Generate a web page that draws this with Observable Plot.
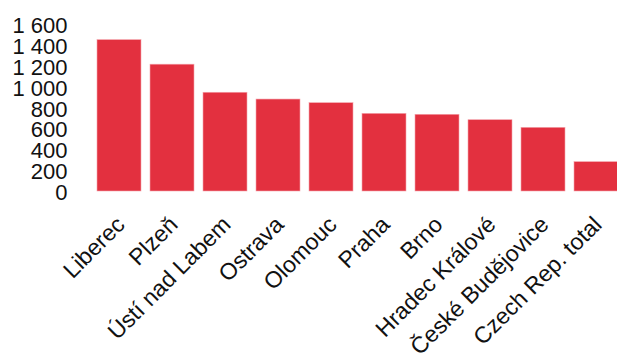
<!DOCTYPE html>
<html>
<head>
<meta charset="utf-8">
<script src="https://cdn.jsdelivr.net/npm/d3@7"></script>
<script src="https://cdn.jsdelivr.net/npm/@observablehq/plot@0.6"></script>
<style>
  html, body { margin: 0; padding: 0; background: #fff; }
  svg { font-family: "Liberation Sans", Arial, sans-serif; }
</style>
</head>
<body>
<div id="chart"></div>
<script>
const cities = ["Liberec", "Plzeň", "Ústí nad Labem", "Ostrava", "Olomouc", "Praha", "Brno", "Hradec Králové", "České Budějovice", "Czech Rep. total"];
const values = [1450, 1215, 946, 881, 846, 744, 735, 683, 610, 281];
const yTicks = [0, 200, 400, 600, 800, 1000, 1200, 1400, 1600];

const data = cities.map((c, i) => ({city: c, value: values[i]}));
const fmt = d => d3.format(",")(d).replace(/,/g, " ");

const chart = Plot.plot({
  width: 617,
  height: 353,
  marginLeft: 90,
  marginRight: -7,
  marginTop: 24,
  marginBottom: 162,
  style: {fontSize: "22px", fontFamily: "Liberation Sans, Arial, sans-serif", color: "#111", background: "#fff"},
  x: {domain: cities, padding: 0.17, paddingOuter: 0.085, axis: null},
  y: {domain: [0, 1600], axis: null},
  marks: [
    Plot.barY(data, {x: "city", y: "value", fill: "#e3303f", stroke: "#f4a3ab", strokeWidth: 0.6}),
    Plot.axisY({ticks: yTicks, tickFormat: fmt, tickSize: 0, tickPadding: 23, dy: 1.5, fontSize: 22, label: null}),
    Plot.axisX({tickSize: 0, tickPadding: 23, dx: -5, rotate: -45, textAnchor: "end", fontSize: 23, label: null})
  ]
});
document.getElementById("chart").appendChild(chart);
</script>
</body>
</html>
